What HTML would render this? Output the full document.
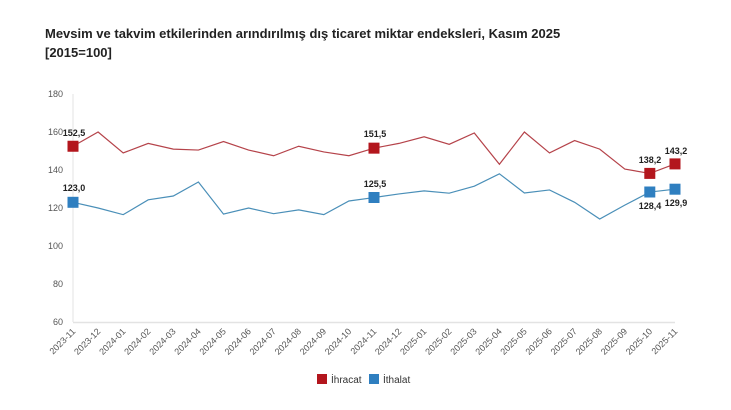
<!DOCTYPE html>
<html><head><meta charset="utf-8"><style>
body{margin:0;background:#fff;width:731px;height:405px;overflow:hidden;font-family:"Liberation Sans",sans-serif}
</style></head><body>
<svg width="731" height="405" xmlns="http://www.w3.org/2000/svg" font-family="Liberation Sans, sans-serif">
<text x="45" y="38" font-size="13" font-weight="bold" fill="#222">Mevsim ve takvim etkilerinden arındırılmış dış ticaret miktar endeksleri, Kasım 2025</text>
<text x="45" y="57" font-size="13" font-weight="bold" fill="#222">[2015=100]</text>
<line x1="73" y1="94" x2="73" y2="322" stroke="#e3e3e3"/>
<line x1="73" y1="322.5" x2="675" y2="322.5" stroke="#e3e3e3" stroke-width="1.5"/>
<g font-size="9" fill="#555" text-anchor="end">
<text x="63" y="97">180</text><text x="63" y="135">160</text><text x="63" y="173">140</text>
<text x="63" y="211">120</text><text x="63" y="249">100</text><text x="63" y="287">80</text><text x="63" y="325">60</text>
</g>
<g font-size="9" fill="#555" text-anchor="end">
<text transform="translate(76,332) rotate(-45)">2023-11</text>
<text transform="translate(101.1,332) rotate(-45)">2023-12</text>
<text transform="translate(126.2,332) rotate(-45)">2024-01</text>
<text transform="translate(151.2,332) rotate(-45)">2024-02</text>
<text transform="translate(176.3,332) rotate(-45)">2024-03</text>
<text transform="translate(201.4,332) rotate(-45)">2024-04</text>
<text transform="translate(226.5,332) rotate(-45)">2024-05</text>
<text transform="translate(251.6,332) rotate(-45)">2024-06</text>
<text transform="translate(276.6,332) rotate(-45)">2024-07</text>
<text transform="translate(301.7,332) rotate(-45)">2024-08</text>
<text transform="translate(326.8,332) rotate(-45)">2024-09</text>
<text transform="translate(351.9,332) rotate(-45)">2024-10</text>
<text transform="translate(377,332) rotate(-45)">2024-11</text>
<text transform="translate(402,332) rotate(-45)">2024-12</text>
<text transform="translate(427.1,332) rotate(-45)">2025-01</text>
<text transform="translate(452.2,332) rotate(-45)">2025-02</text>
<text transform="translate(477.3,332) rotate(-45)">2025-03</text>
<text transform="translate(502.4,332) rotate(-45)">2025-04</text>
<text transform="translate(527.4,332) rotate(-45)">2025-05</text>
<text transform="translate(552.5,332) rotate(-45)">2025-06</text>
<text transform="translate(577.6,332) rotate(-45)">2025-07</text>
<text transform="translate(602.7,332) rotate(-45)">2025-08</text>
<text transform="translate(627.8,332) rotate(-45)">2025-09</text>
<text transform="translate(652.8,332) rotate(-45)">2025-10</text>
<text transform="translate(678,332) rotate(-45)">2025-11</text>
</g>
<polyline fill="none" stroke="#b5434a" stroke-width="1.2" points="73,146.25 98.1,132 123.2,152.9 148.2,143.4 173.3,149.1 198.4,150.05 223.5,141.5 248.6,150.05 273.6,155.75 298.7,146.25 323.8,151.95 348.9,155.75 374,148.15 399,143.4 424.1,136.75 449.2,144.35 474.3,132.95 499.4,164.3 524.4,132 549.5,152.9 574.6,140.55 599.7,149.1 624.8,169.05 649.8,173.42 675,163.92"/>
<polyline fill="none" stroke="#4a8fb8" stroke-width="1.2" points="73,202.3 98.1,208 123.2,214.65 148.2,199.83 173.3,196.03 198.4,181.97 223.5,214.08 248.6,208 273.6,213.7 298.7,209.9 323.8,214.65 348.9,200.97 374,197.55 399,193.94 424.1,190.9 449.2,193.18 474.3,186.15 499.4,173.8 524.4,192.99 549.5,189.95 574.6,202.3 599.7,219.02 624.8,205.15 649.8,192.04 675,189.19"/>
<g fill="#b3161d">
<rect x="67.5" y="140.75" width="11" height="11"/><rect x="368.5" y="142.65" width="11" height="11"/>
<rect x="644.3" y="167.9" width="11" height="11"/><rect x="669.5" y="158.4" width="11" height="11"/>
</g>
<g fill="#2f7fc0">
<rect x="67.5" y="196.8" width="11" height="11"/><rect x="368.5" y="192" width="11" height="11"/>
<rect x="644.3" y="186.5" width="11" height="11"/><rect x="669.5" y="183.7" width="11" height="11"/>
</g>
<g font-size="9" font-weight="bold" fill="#222" text-anchor="middle">
<text x="74" y="136">152,5</text><text x="375" y="137">151,5</text>
<text x="650" y="163">138,2</text><text x="676" y="154">143,2</text>
<text x="74" y="191">123,0</text><text x="375" y="187">125,5</text>
<text x="650" y="209">128,4</text><text x="676" y="206">129,9</text>
</g>
<rect x="317" y="374" width="10" height="10" fill="#b3161d"/>
<text x="331" y="383" font-size="10" fill="#333">İhracat</text>
<rect x="369" y="374" width="10" height="10" fill="#2f7fc0"/>
<text x="383" y="383" font-size="10" fill="#333">İthalat</text>
</svg>
</body></html>
